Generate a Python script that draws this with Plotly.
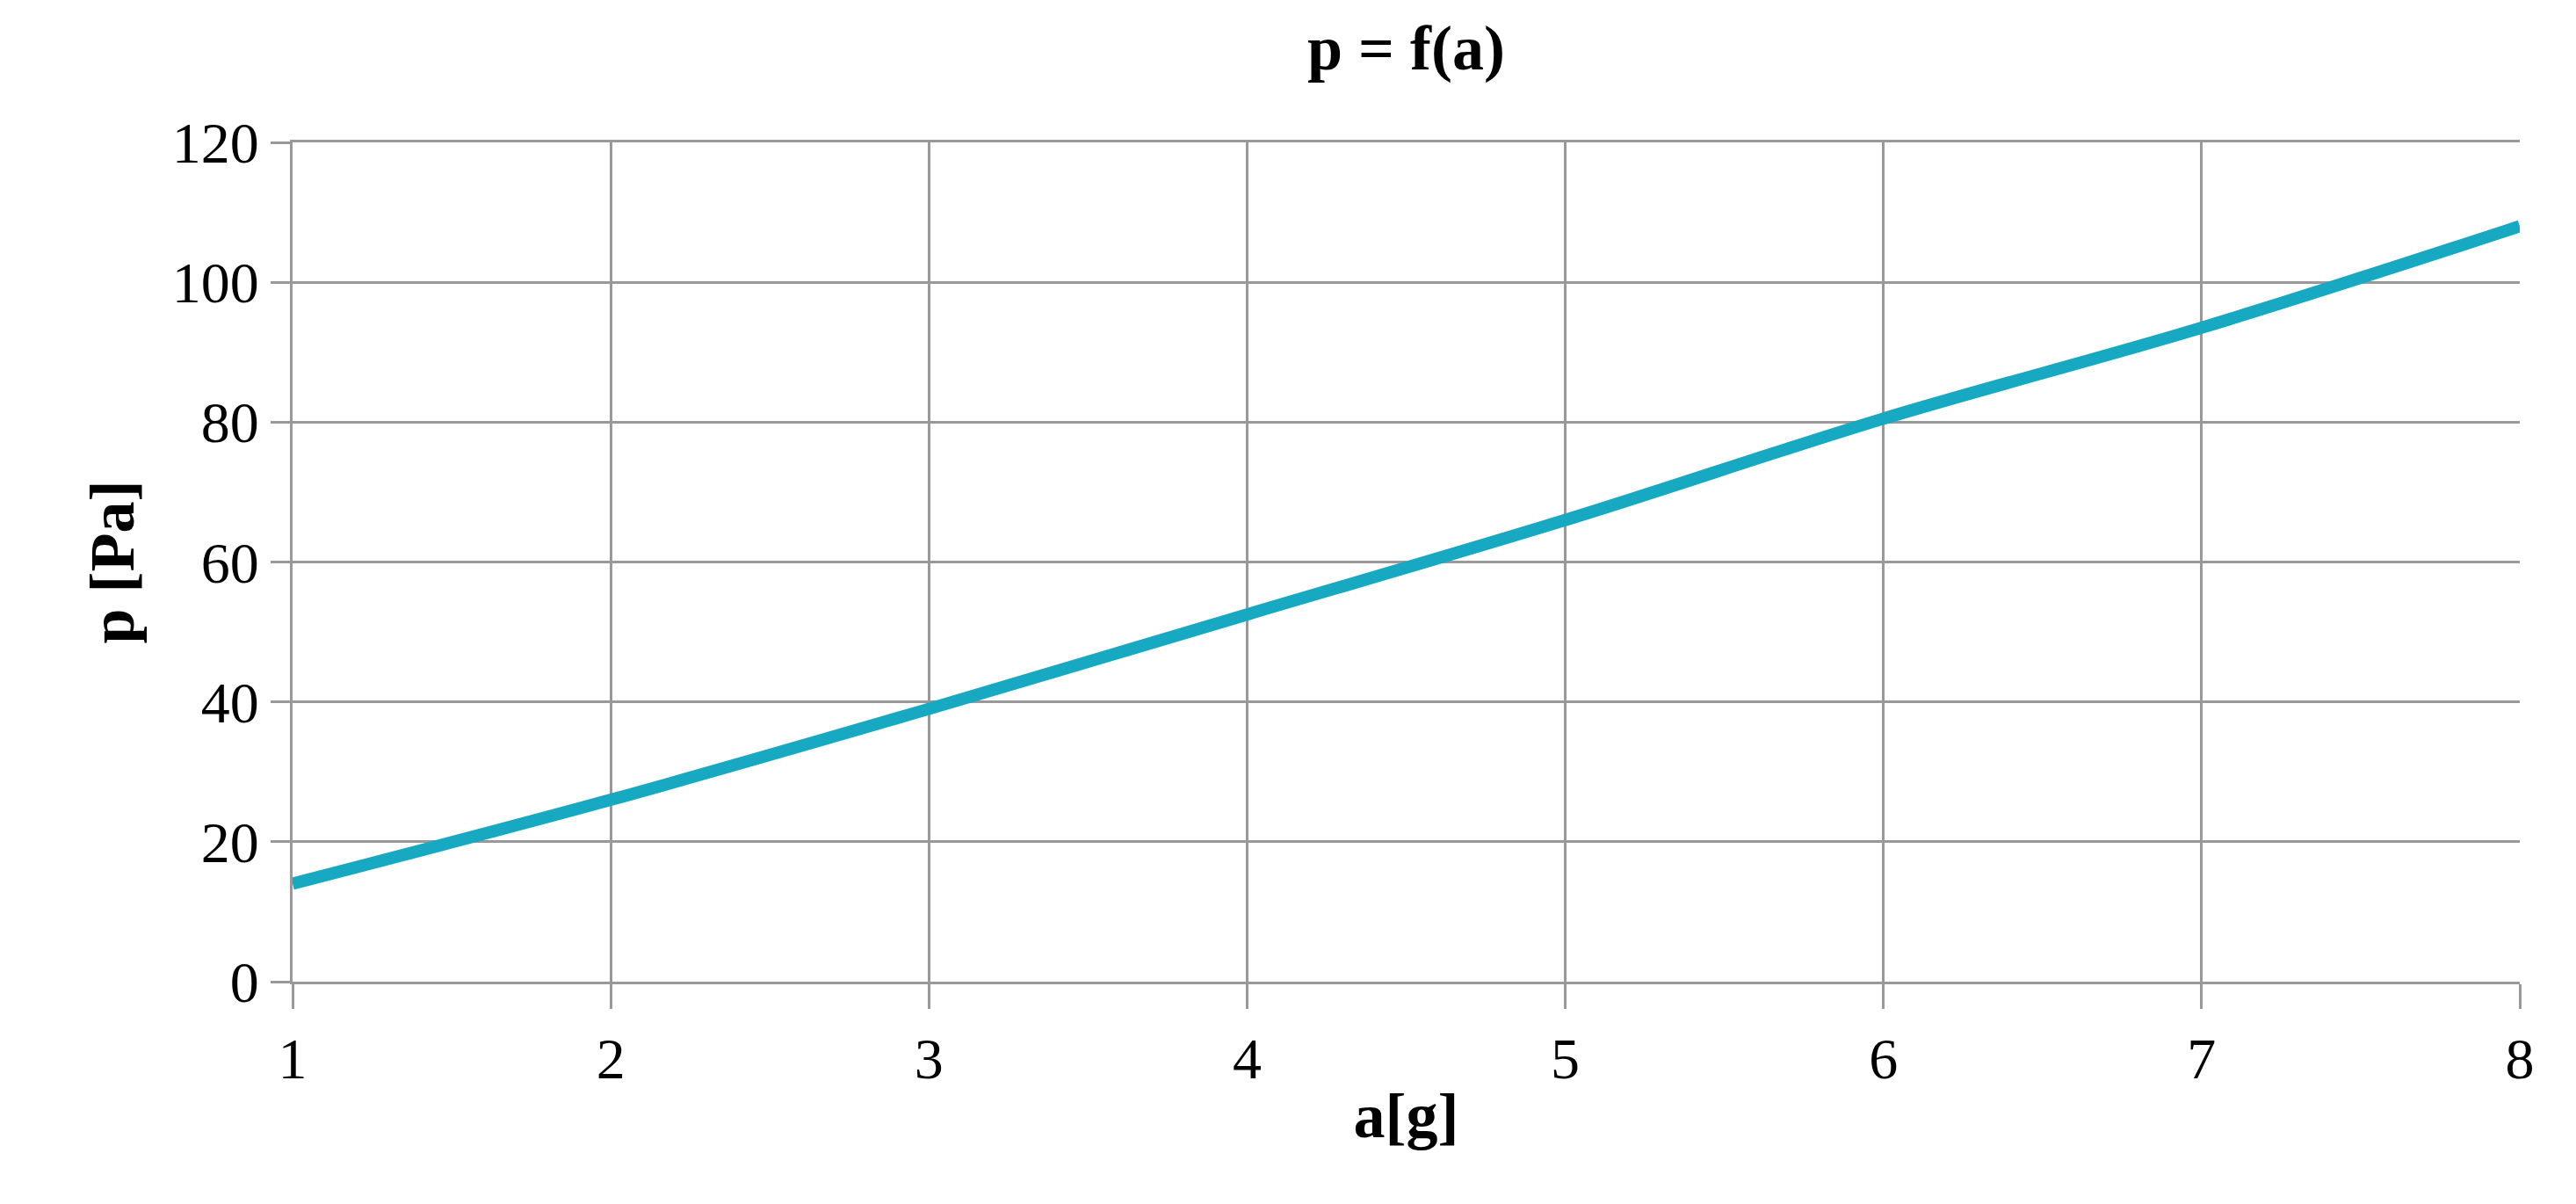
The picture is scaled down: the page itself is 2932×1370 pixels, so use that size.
import plotly.graph_objects as go

a_vals = [1, 2, 3, 4, 5, 6, 7, 8]
p_vals = [14, 26, 39, 52.5, 66, 80.5, 93.5, 108]
x_ticks = [1, 2, 3, 4, 5, 6, 7, 8]
y_ticks = [0, 20, 40, 60, 80, 100, 120]

fig = go.Figure(go.Scatter(x=a_vals, y=p_vals, mode="lines", line=dict(color="#16a9c1", width=14, shape="spline"), showlegend=False))
grid = "#999999"
fig.update_layout(
    width=2932, height=1370, paper_bgcolor="white", plot_bgcolor="white",
    margin=dict(l=325, r=72, t=154, b=261),
    font=dict(family="Liberation Serif", size=66, color="black"),
    title=dict(text="<b>p = f(a)</b>", x=0.5, xref="paper", y=0.985, yanchor="top", font=dict(size=72)),
)
fig.update_xaxes(range=[1, 8], tickvals=x_ticks, showgrid=True, gridcolor=grid, gridwidth=3,
                 showline=True, mirror=True, linecolor=grid, linewidth=3, ticks="outside", ticklen=28, tickcolor=grid, tickwidth=3,
                 title=dict(text="<b>a[g]</b>", font=dict(size=72), standoff=4), zeroline=False)
fig.update_yaxes(range=[0, 120], tickvals=y_ticks, showgrid=True, gridcolor=grid, gridwidth=3,
                 showline=True, linecolor=grid, linewidth=3, ticks="outside", ticklen=22, tickcolor=grid, tickwidth=3,
                 title=dict(text="<b>p [Pa]</b>", font=dict(size=72), standoff=20), zeroline=False)
fig.write_html("out.html")
